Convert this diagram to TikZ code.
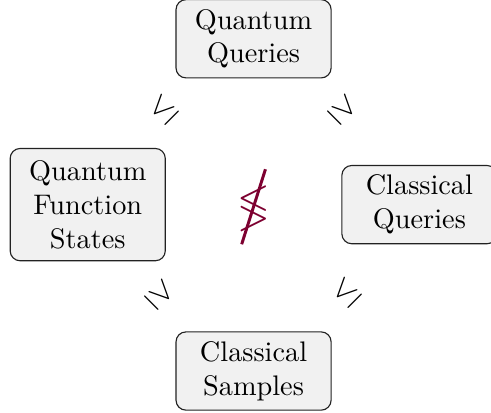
\documentclass[tikz,border=0pt]{standalone}
\usepackage{amsmath,amssymb}
\usepackage{tikz}
\usetikzlibrary{calc}
\definecolor{Edge}{HTML}{222222}
\definecolor{Pale}{HTML}{F1F1F1}
\definecolor{Wine}{HTML}{7D0030}
\tikzset{
 block/.style={draw=Edge,fill=Pale,rounded corners=3.5pt,align=center,
   minimum width=54.8pt,inner sep=3.33pt},
 rel/.style={inner sep=0pt,scale=1.15},
 nrel/.style={text=Wine,inner sep=0pt}
}
\begin{document}
\begin{tikzpicture}[x=1pt,y=1pt]
\useasboundingbox (-89.6,-73.3) rectangle (83.9,72.3);
\node[block] (qq) at (0,58.6) {Quantum\\Queries};
\node[block,inner ysep=4.2pt] (qfs) at (-58.6,0) {Quantum\\Function\\States};
\node[block] (cq) at (58.6,0) {Classical\\Queries};
\node[block] (cs) at (0,-58.8) {Classical\\Samples};
% relations between the four access models
\node[rel,rotate=45] (tl) at (-31.8,33.4) {$\leq$};
\node[rel,rotate=-45] (tr) at (31.8,33.4) {$\geq$};
\node[rel,rotate=-45] (bl) at (-33,-32) {$\geq$};
\node[rel,rotate=45] (br) at (33,-31.3) {$\leq$};
\node[nrel,xscale=1.3,yscale=1.75] (mid) at (0,-0.9) {$\lessgtr$};
\draw[Wine,line width=1.05pt] ($(mid.center)+(-4.2,-13.1)$) -- ($(mid.center)+(4.2,13.4)$);
\end{tikzpicture}
\end{document}
